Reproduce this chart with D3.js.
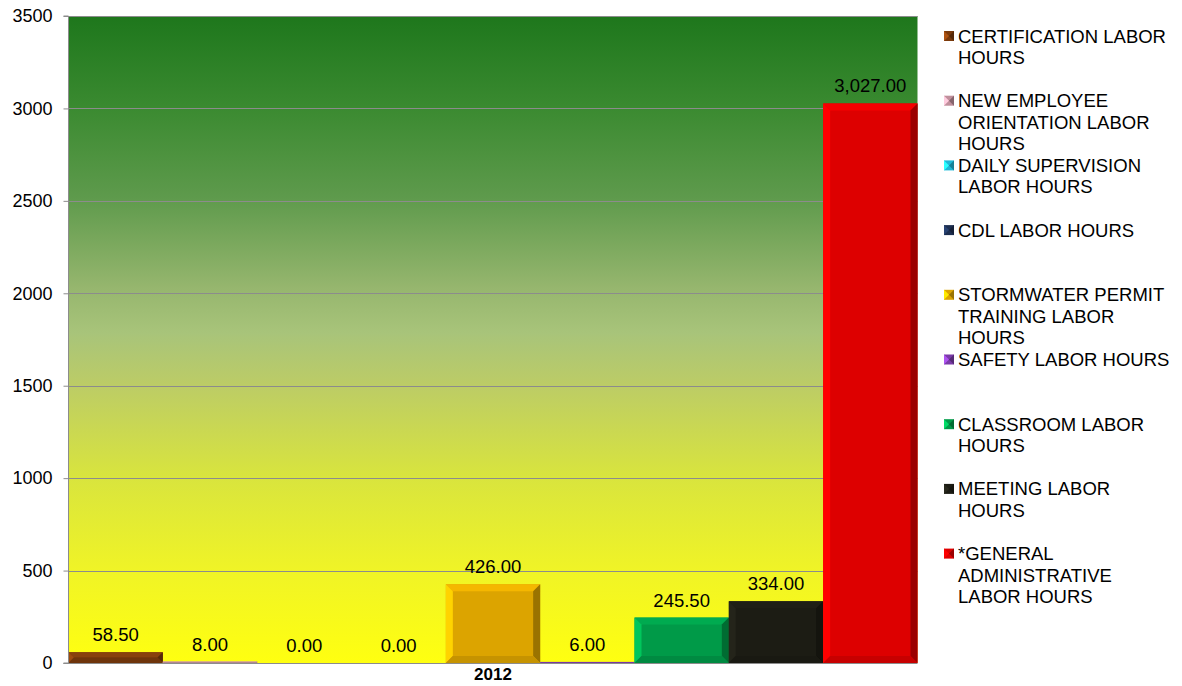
<!DOCTYPE html>
<html><head><meta charset="utf-8">
<script src="https://cdn.jsdelivr.net/npm/d3@7"></script>
<style>body{margin:0;background:#fff;}svg{display:block;font-family:"Liberation Sans",Arial,sans-serif;}</style>
</head><body><svg id="c" width="1182" height="686"></svg>
<script>
const categories = ["2012"];
const seriesNames = ["CERTIFICATION LABOR HOURS","NEW EMPLOYEE ORIENTATION LABOR HOURS","DAILY SUPERVISION LABOR HOURS","CDL LABOR HOURS","STORMWATER PERMIT TRAINING LABOR HOURS","SAFETY LABOR HOURS","CLASSROOM LABOR HOURS","MEETING LABOR HOURS","*GENERAL ADMINISTRATIVE LABOR HOURS"];
const legendLines = [["CERTIFICATION LABOR","HOURS"],["NEW EMPLOYEE","ORIENTATION LABOR","HOURS"],["DAILY SUPERVISION","LABOR HOURS"],["CDL LABOR HOURS"],["STORMWATER PERMIT","TRAINING LABOR","HOURS"],["SAFETY LABOR HOURS"],["CLASSROOM LABOR","HOURS"],["MEETING LABOR","HOURS"],["*GENERAL","ADMINISTRATIVE","LABOR HOURS"]];
const values = [58.5, 8, 0, 0, 426, 6, 245.5, 334, 3027];
const colors = ["#7a3a0c","#c08f9c","#1fb8d8","#1c2e50","#dca400","#7a3aa8","#009a48","#1c1c14","#dd0000"];
const yTicks = [0,500,1000,1500,2000,2500,3000,3500];

const svg = d3.select("#c");
const L = 68.5, R = 917.5, T = 16, B = 663;
const y = d3.scaleLinear().domain([0,3500]).range([B,T]);
const x0 = d3.scaleBand().domain(categories).range([L,R]).padding(0);
const x1 = d3.scaleBand().domain(seriesNames).range([0,x0.bandwidth()]).padding(0);

const defs = svg.append("defs");
const g = defs.append("linearGradient").attr("id","bg").attr("x1",0).attr("y1",0).attr("x2",0).attr("y2",1);
[[0,"#1e771c"],[0.14,"#3a8a30"],[0.28,"#5e9a4c"],[0.42,"#96b66e"],[0.49,"#a8c47a"],[0.57,"#bccc66"],[0.71,"#d8e43e"],[0.86,"#f0f426"],[1,"#ffff10"]]
  .forEach(([o,c])=>g.append("stop").attr("offset",o).attr("stop-color",c));

svg.append("rect").attr("x",L).attr("y",T).attr("width",R-L).attr("height",B-T).attr("fill","url(#bg)");

// gridlines
svg.append("g").selectAll("line").data(yTicks.filter(d=>d>0)).join("line")
  .attr("x1",L).attr("x2",R).attr("y1",d=>Math.round(y(d))+0.5).attr("y2",d=>Math.round(y(d))+0.5)
  .attr("stroke","#8c8c8c").attr("stroke-width",1);

// bars with bevel
const bars = svg.append("g");
seriesNames.forEach((s,i)=>{
  const v = values[i];
  const bx = x0(categories[0]) + x1(s), bw = x1.bandwidth();
  const top = y(v), h = B - top;
  if (h <= 0) return;
  const c = d3.color(colors[i]);
  const bv = Math.min(7, h/2);
  const gg = bars.append("g");
  gg.append("rect").attr("x",bx).attr("y",top).attr("width",bw).attr("height",h).attr("fill",c.formatHex());
  const x2 = bx+bw, y2 = B;
  const poly = (pts,fill)=>gg.append("polygon").attr("points",pts.map(p=>p.join(",")).join(" ")).attr("fill",fill);
  poly([[bx,top],[x2,top],[x2-bv,top+bv],[bx+bv,top+bv]], c.brighter(0.3).formatHex());
  poly([[bx,top],[bx+bv,top+bv],[bx+bv,y2-bv],[bx,y2]], c.brighter(0.7).formatHex());
  poly([[x2,top],[x2,y2],[x2-bv,y2-bv],[x2-bv,top+bv]], c.darker(1.0).formatHex());
  poly([[bx,y2],[x2,y2],[x2-bv,y2-bv],[bx+bv,y2-bv]], c.darker(0.3).formatHex());
});

// value labels
svg.append("g").selectAll("text").data(values).join("text")
  .attr("x",(d,i)=>x0(categories[0])+x1(seriesNames[i])+x1.bandwidth()/2)
  .attr("y",(d,i)=>y(d)-11)
  .attr("text-anchor","middle").attr("font-size",18.5).attr("fill","#000")
  .text(d=>d3.format(",.2f")(d));

// y axis
const yAxis = d3.axisLeft(y).tickValues(yTicks).tickSize(5).tickFormat(d3.format("d"));
const ya = svg.append("g").attr("transform",`translate(${L},0)`).call(yAxis);
ya.select(".domain").attr("stroke","#8c8c8c").attr("d",`M-5,${T}H0V${B}H-5`);
ya.selectAll(".tick line").attr("stroke","#8c8c8c");
ya.selectAll(".tick text").attr("font-size",18).attr("fill","#000").attr("x",-16).attr("font-family","Liberation Sans, Arial, sans-serif");
svg.append("line").attr("x1",L-5).attr("x2",R).attr("y1",B+0.5).attr("y2",B+0.5).attr("stroke","#8c8c8c");

// x axis label
const xAxis = d3.axisBottom(x0).tickSize(0);
const xa = svg.append("g").attr("transform",`translate(0,${B})`).call(xAxis);
xa.select(".domain").remove();
xa.selectAll(".tick text").attr("font-size",17).attr("font-weight","bold").attr("fill","#000").attr("dy","0.85em").attr("font-family","Liberation Sans, Arial, sans-serif");

// legend
const lg = svg.append("g");
const lineH = 21.5, startY = 36, spacing = 64.7;
seriesNames.forEach((s,i)=>{
  const cy = startY + i*spacing;
  const c = d3.color(colors[i]);
  const mx = 944, my = cy-5, m = 10;
  const gi = lg.append("g");
  gi.append("rect").attr("x",mx).attr("y",my).attr("width",m).attr("height",m).attr("fill",c.formatHex());
  gi.append("polygon").attr("points",`${mx},${my} ${mx+m/2},${my+m/2} ${mx},${my+m}`).attr("fill",c.brighter(1).formatHex());
  gi.append("polygon").attr("points",`${mx+m},${my} ${mx+m/2},${my+m/2} ${mx+m},${my+m}`).attr("fill",c.darker(1).formatHex());
  const t = gi.append("text").attr("x",958).attr("font-size",18.5).attr("fill","#000");
  legendLines[i].forEach((ln,j)=>{
    t.append("tspan").attr("x",958).attr("y",cy + j*lineH + 6.5).text(ln);
  });
});
</script></body></html>
